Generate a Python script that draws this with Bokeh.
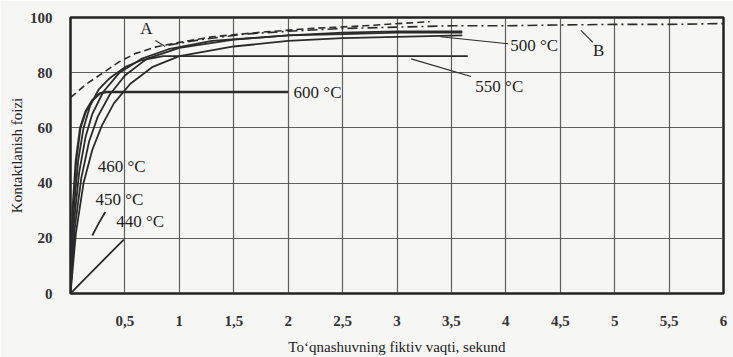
from bokeh.plotting import figure
from bokeh.models import FixedTicker, ColumnDataSource
from bokeh.core.properties import value
from bokeh.embed import file_html
from bokeh.resources import INLINE

# ---- data ----
x_ticks = [0.5, 1, 1.5, 2, 2.5, 3, 3.5, 4, 4.5, 5, 5.5, 6]
x_tick_labels = ["0,5", "1", "1,5", "2", "2,5", "3", "3,5", "4", "4,5", "5", "5,5", "6"]
y_ticks = [0, 20, 40, 60, 80, 100]
y_tick_labels = ["0", "20", "40", "60", "80", "100"]

t440 = [0, 0.1, 0.2, 0.3, 0.4, 0.49]
c440 = [0, 4, 8, 12, 16, 19.5]
t440b = [0.2, 0.26, 0.32]
c440b = [21, 25.5, 29.5]

t450 = [0, 0.05, 0.12, 0.2, 0.29, 0.4, 0.55, 0.75, 1.0, 1.5, 2.0, 2.5, 3.0, 3.6]
c450 = [0, 22, 40, 52, 61, 69, 76, 82, 86, 89.5, 91.5, 92.5, 93, 93.5]

t460 = [0, 0.04, 0.1, 0.17, 0.25, 0.36, 0.5, 0.7, 1.0, 1.5, 2.0, 2.5, 3.0, 3.6]
c460 = [0, 24, 42, 55, 64, 72, 79, 85, 89, 92, 93.5, 94, 94.5, 94.5]

t500 = [0, 0.03, 0.08, 0.14, 0.2, 0.3, 0.45, 0.65, 0.9, 1.3, 2.0, 2.5, 3.0, 3.6]
c500 = [0, 25, 44, 57, 65, 73, 80, 85, 88.5, 91.5, 93.5, 94.5, 95, 95]

t550 = [0, 0.03, 0.07, 0.12, 0.18, 0.26, 0.36, 0.5, 0.65, 0.85, 1.5, 2.5, 3.65]
c550 = [0, 30, 48, 60, 68, 74, 78, 82, 84.5, 86, 86, 86, 86]

t600 = [0, 0.02, 0.05, 0.09, 0.14, 0.2, 0.27, 0.33, 1.0, 2.0]
c600 = [0, 30, 48, 60, 66, 70, 72.5, 73, 73, 73]

tA = [0, 0.15, 0.3, 0.45, 0.6, 0.8, 1.0, 1.3, 1.7, 2.2, 2.7, 3.3]
cA = [71, 76, 80, 84, 87, 89.5, 91, 93, 94.5, 96, 97, 98.5]

tB = [0.9, 1.2, 1.6, 2.0, 2.5, 3.0, 3.5, 4.0, 4.5, 5.0, 5.5, 6.0]
cB = [90, 92, 94, 95, 96, 96.5, 97, 97, 97.3, 97.5, 97.5, 97.8]

label_texts = ["600 °C", "550 °C", "500 °C", "460 °C", "450 °C", "440 °C", "A", "B"]
label_x = [2.05, 3.72, 4.04, 0.25, 0.23, 0.42, 0.64, 4.8]
label_y = [73, 75, 90, 46, 34, 26, 96, 88]

leader_x0 = [3.13, 3.4, 4.69, 0.78]
leader_y0 = [85, 93, 95.3, 91.7]
leader_x1 = [3.68, 4.02, 4.8, 0.87]
leader_y1 = [78.6, 90.5, 91, 89.5]

# ---- figure ----
SERIF = "Liberation Serif"
INK = "#2b2b2b"

p = figure(width=733, height=357, x_range=(0, 6), y_range=(0, 100),
           output_backend="svg", toolbar_location=None,
           min_border_left=70, min_border_right=10, min_border_top=17, min_border_bottom=64,
           background_fill_color="#f6f6f4", border_fill_color="#f6f6f4")

p.outline_line_color = "#222222"
p.outline_line_width = 2.5

p.xaxis.ticker = FixedTicker(ticks=x_ticks)
p.yaxis.ticker = FixedTicker(ticks=y_ticks)
p.xaxis.major_label_overrides = {float(t): l for t, l in zip(x_ticks, x_tick_labels)}
p.yaxis.major_label_overrides = {float(t): l for t, l in zip(y_ticks, y_tick_labels)}
for ax in (p.xaxis[0], p.yaxis[0]):
    ax.axis_line_color = None
    ax.major_tick_line_color = None
    ax.minor_tick_line_color = None
    ax.major_label_text_font = SERIF
    ax.major_label_text_font_size = "15px"
    ax.major_label_text_font_style = "bold"
    ax.major_label_text_color = "#333333"
    ax.axis_label_text_font = SERIF
    ax.axis_label_text_font_size = "15px"
    ax.axis_label_text_font_style = "normal"
    ax.axis_label_text_color = "#222222"
p.xaxis.major_label_standoff = 16
p.yaxis.major_label_standoff = 12
p.xaxis.axis_label = "To‘qnashuvning fiktiv vaqti, sekund"
p.yaxis.axis_label = "Kontaktlanish foizi"
p.xaxis.axis_label_standoff = 10
p.yaxis.axis_label_standoff = 2

p.xgrid.ticker = FixedTicker(ticks=x_ticks)
p.ygrid.ticker = FixedTicker(ticks=y_ticks)
p.grid.grid_line_color = "#444444"
p.grid.grid_line_width = 1.2
p.grid.grid_line_alpha = 0.85

# curves
for t, c in [(t440, c440), (t440b, c440b), (t450, c450), (t460, c460),
             (t500, c500), (t550, c550)]:
    p.line(t, c, line_color=INK, line_width=1.8)
p.line(t600, c600, line_color=INK, line_width=2.4)
p.line(tA, cA, line_color=INK, line_width=1.6, line_dash="7 4")
p.line(tB, cB, line_color=INK, line_width=1.6, line_dash="10 4 2 4")

# leader lines
p.segment(leader_x0, leader_y0, leader_x1, leader_y1, line_color=INK, line_width=1.1)

# labels
src = ColumnDataSource(dict(x=label_x, y=label_y, text=label_texts))
p.text(x="x", y="y", text="text", source=src, text_font=value(SERIF),
       text_font_size="17px", text_baseline="middle", text_align="left",
       text_color="#1e1e1e")

open("out.html", "w").write(file_html(p, INLINE))
